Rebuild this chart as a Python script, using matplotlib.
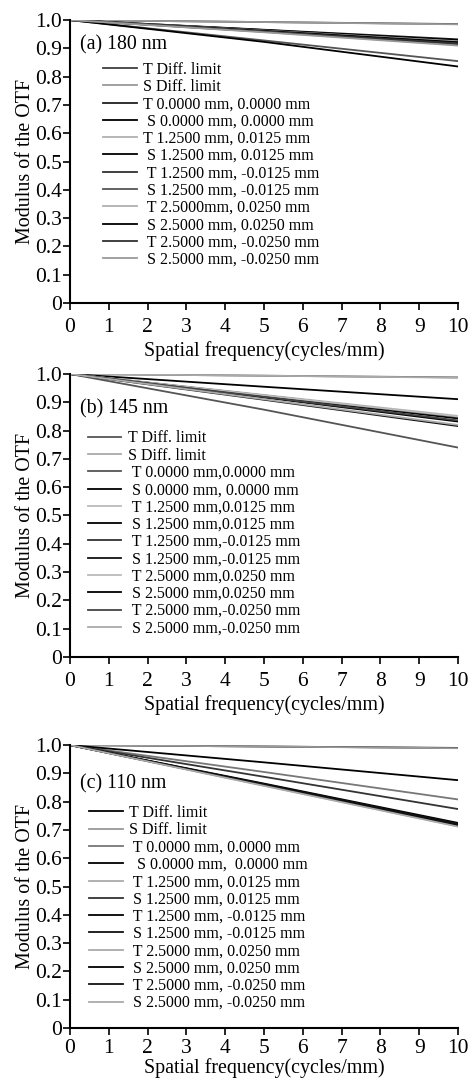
import matplotlib
matplotlib.use('Agg')
import matplotlib.pyplot as plt

plt.rcParams['font.family'] = ['Liberation Serif', 'DejaVu Serif']

freq = [0, 5, 10]

# legend labels per panel (a), (b), (c)
labels_a = ['T Diff. limit', 'S Diff. limit', 'T 0.0000 mm, 0.0000 mm',
            ' S 0.0000 mm, 0.0000 mm', 'T 1.2500 mm, 0.0125 mm',
            ' S 1.2500 mm, 0.0125 mm', ' T 1.2500 mm, -0.0125 mm',
            ' S 1.2500 mm, -0.0125 mm', ' T 2.5000mm, 0.0250 mm',
            ' S 2.5000 mm, 0.0250 mm', ' T 2.5000 mm, -0.0250 mm',
            ' S 2.5000 mm, -0.0250 mm']
labels_b = ['T Diff. limit', 'S Diff. limit', ' T 0.0000 mm,0.0000 mm',
            ' S 0.0000 mm, 0.0000 mm', ' T 1.2500 mm,0.0125 mm',
            ' S 1.2500 mm,0.0125 mm', ' T 1.2500 mm,-0.0125 mm',
            ' S 1.2500 mm,-0.0125 mm', ' T 2.5000 mm,0.0250 mm',
            ' S 2.5000 mm,0.0250 mm', ' T 2.5000 mm,-0.0250 mm',
            ' S 2.5000 mm,-0.0250 mm']
labels_c = ['T Diff. limit', 'S Diff. limit', ' T 0.0000 mm, 0.0000 mm',
            '  S 0.0000 mm,  0.0000 mm', ' T 1.2500 mm, 0.0125 mm',
            ' S 1.2500 mm, 0.0125 mm', ' T 1.2500 mm, -0.0125 mm',
            ' S 1.2500 mm, -0.0125 mm', ' T 2.5000 mm, 0.0250 mm',
            ' S 2.5000 mm, 0.0250 mm', ' T 2.5000 mm, -0.0250 mm',
            ' S 2.5000 mm, -0.0250 mm']

# MTF values at freq 0, 5, 10 for the 12 series
mtf_a = [[1.0, 0.993, 0.986], [1.0, 0.993, 0.985],
         [1.0, 0.966, 0.932], [1.0, 0.965, 0.929],
         [1.0, 0.963, 0.925], [1.0, 0.962, 0.922],
         [1.0, 0.960, 0.918], [1.0, 0.928, 0.855],
         [1.0, 0.958, 0.912], [1.0, 0.923, 0.836],
         [1.0, 0.959, 0.915], [1.0, 0.957, 0.910]]
mtf_b = [[1.0, 0.994, 0.988], [1.0, 0.994, 0.987],
         [1.0, 0.874, 0.740], [1.0, 0.955, 0.911],
         [1.0, 0.926, 0.852], [1.0, 0.922, 0.843],
         [1.0, 0.924, 0.848], [1.0, 0.909, 0.816],
         [1.0, 0.925, 0.850], [1.0, 0.917, 0.832],
         [1.0, 0.919, 0.836], [1.0, 0.911, 0.820]]
mtf_c = [[1.0, 0.995, 0.990], [1.0, 0.995, 0.989],
         [1.0, 0.905, 0.808], [1.0, 0.939, 0.876],
         [1.0, 0.860, 0.718], [1.0, 0.888, 0.774],
         [1.0, 0.864, 0.725], [1.0, 0.862, 0.722],
         [1.0, 0.857, 0.713], [1.0, 0.859, 0.716],
         [1.0, 0.861, 0.720], [1.0, 0.856, 0.712]]

colors_a = ['#404040', '#9a9a9a', '#202020', '#000000', '#b0b0b0', '#000000',
            '#303030', '#555555', '#b0b0b0', '#000000', '#303030', '#9a9a9a']
colors_b = ['#555555', '#aaaaaa', '#555555', '#000000', '#bbbbbb', '#000000',
            '#333333', '#111111', '#bbbbbb', '#000000', '#444444', '#aaaaaa']
colors_c = ['#000000', '#999999', '#777777', '#000000', '#aaaaaa', '#333333',
            '#000000', '#111111', '#aaaaaa', '#000000', '#111111', '#aaaaaa']

titles = ['(a) 180 nm', '(b) 145 nm', '(c) 110 nm']
y_ticks = [0, 0.1, 0.2, 0.3, 0.4, 0.5, 0.6, 0.7, 0.8, 0.9, 1.0]
y_tick_labels = ['0', '0.1', '0.2', '0.3', '0.4', '0.5', '0.6', '0.7',
                 '0.8', '0.9', '1.0']

# axes bottom, title y, legend x, legend top y, x tick pad, xlabel pad
panels = [(labels_a, mtf_a, colors_a, 0.7194, 0.912, 0.085, 0.853, 6, 3),
          (labels_b, mtf_b, colors_b, 0.3917, 0.876, 0.046, 0.801, 6, 3),
          (labels_c, mtf_c, colors_c, 0.0481, 0.864, 0.049, 0.788, 3, 0)]

fig = plt.figure(figsize=(4.72, 10.8), dpi=100)

for idx, (labels, mtf, colors, bottom, title_y, leg_x, leg_y, xpad,
          xlpad) in enumerate(panels):
    ax = fig.add_axes([0.1483, bottom, 0.822, 0.262])
    for lab, vals, col in zip(labels, mtf, colors):
        ax.plot(freq, vals, color=col, lw=1.3, label=lab)
    ax.set_xlim(0, 10)
    ax.set_ylim(0, 1.0)
    ax.set_xticks(range(0, 11))
    ax.set_yticks(y_ticks)
    ax.set_yticklabels(y_tick_labels)
    ax.spines['top'].set_visible(False)
    ax.spines['right'].set_visible(False)
    ax.spines['left'].set_linewidth(1.5)
    ax.spines['bottom'].set_linewidth(1.5)
    ax.tick_params(direction='out', length=5, width=1.2, labelsize=15.5)
    ax.tick_params(axis='x', pad=xpad)
    ax.tick_params(axis='y', pad=1)
    ax.set_xlabel('Spatial frequency(cycles/mm)', fontsize=14.4,
                  labelpad=xlpad)
    ax.set_ylabel('Modulus of the OTF', fontsize=14.4, labelpad=0)
    ax.text(0.026, title_y, titles[idx], transform=ax.transAxes,
            fontsize=14.3, va='center', ha='left')
    ax.legend(loc='upper left', bbox_to_anchor=(leg_x, leg_y),
              frameon=False, fontsize=11.5, handlelength=2.1,
              handletextpad=0.4, labelspacing=0.08, borderpad=0,
              borderaxespad=0)

fig.savefig('out.png', dpi=100)
